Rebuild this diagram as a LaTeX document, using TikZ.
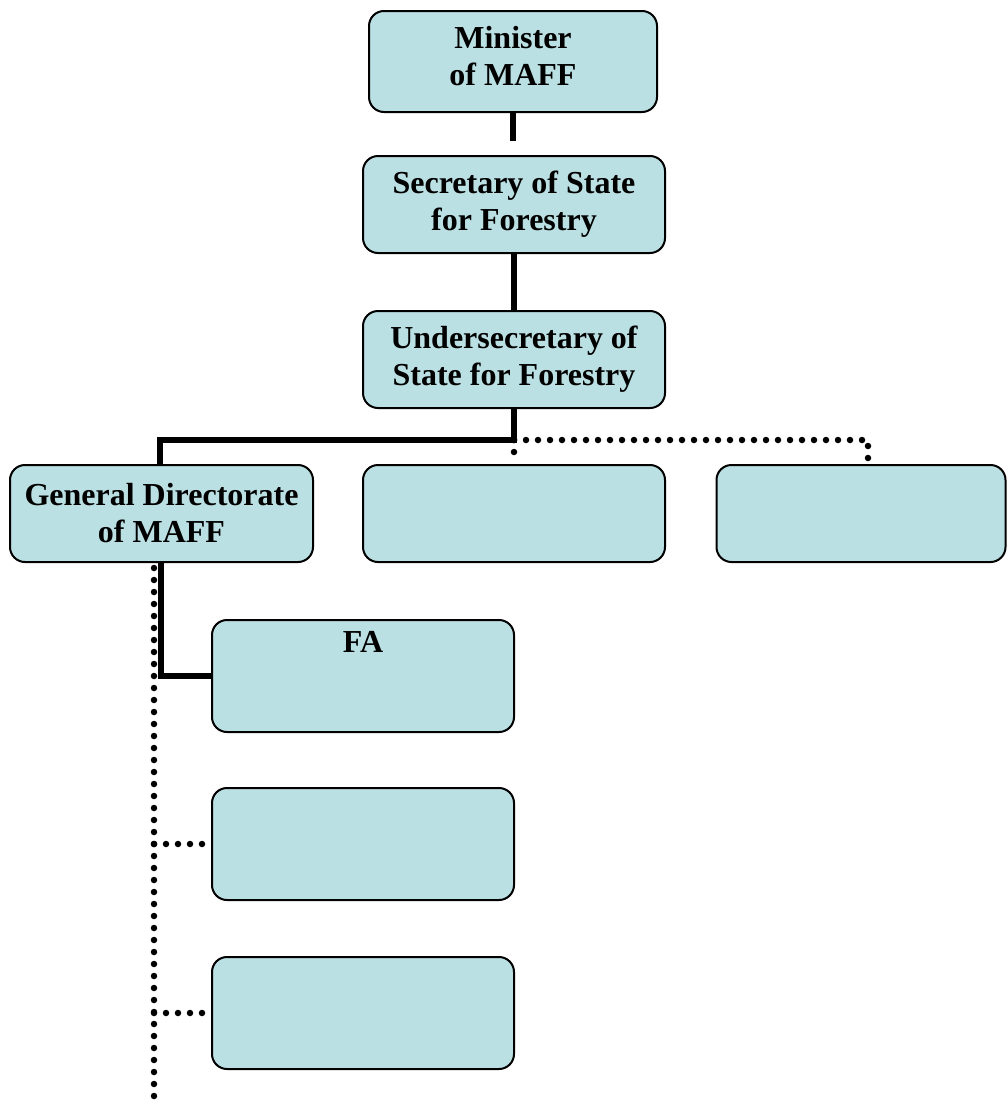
\documentclass[tikz,border=0pt]{standalone}
\usepackage{fontspec}
\setmainfont{Liberation Serif}
\usetikzlibrary{calc}
\definecolor{boxfill}{HTML}{BBE0E3}
\begin{document}
\begin{tikzpicture}[x=1pt,y=-1pt,
  box/.style={draw=black, line width=2pt, fill=boxfill, rounded corners=15pt,
    font=\fontsize{32}{37}\selectfont\bfseries, align=center, inner sep=0pt},
  solidconn/.style={line width=6.5pt},
  dotconn/.style={line width=6.5pt, line cap=round, dash pattern=on 0pt off 12pt}]
\useasboundingbox (0,0) rectangle (1007,1106);
\node[box, minimum width=288pt, minimum height=101pt] (min) at (513,61.5) {};
\node[box, draw=none, fill=none] (mintext) at (513,56) {Minister\\of MAFF};
\node[box, minimum width=302pt, minimum height=97pt] (sec) at (514,204.5) {Secretary of State\\for Forestry};
\node[box, minimum width=302pt, minimum height=97pt] (und) at (514,359.5) {Undersecretary of\\State for Forestry};
\node[box, minimum width=303pt, minimum height=97pt] (gd) at (161.5,513.5) {General Directorate\\of MAFF};
\node[box, minimum width=302pt, minimum height=97pt] (mid) at (514,513.5) {};
\node[box, minimum width=289pt, minimum height=97pt] (rb) at (861,513.5) {};
\node[box, minimum width=302pt, minimum height=112pt] (fa) at (363,676) {};
\node[box, draw=none, fill=none, anchor=north] (fatext) at (363,630) {FA};
\node[box, minimum width=302pt, minimum height=112pt] (b6) at (363,844) {};
\node[box, minimum width=302pt, minimum height=112pt] (b7) at (363,1013) {};
\coordinate (j) at (514,440);
\coordinate (dtop) at (154,568);
\coordinate (dend) at (154,1106);
\draw[solidconn] (min.south) -- ([yshift=14pt]min.south |- sec.north);
\draw[solidconn] (sec.south) -- (und.north);
\draw[solidconn] (und.south) -- (j) -| ([xshift=-1.5pt]gd.north);
\draw[dotconn] (j) -- (mid.north);
\draw[dotconn] (j) -| ([xshift=7pt]rb.north);
\draw[solidconn] ([xshift=-0.5pt]gd.south) |- (fa.west);
\draw[dotconn] (dtop) -- (dend);
\draw[dotconn] (dtop |- b6.west) -- ([xshift=-6pt]b6.west);
\draw[dotconn] (dtop |- b7.west) -- ([xshift=-6pt]b7.west);
\end{tikzpicture}
\end{document}
